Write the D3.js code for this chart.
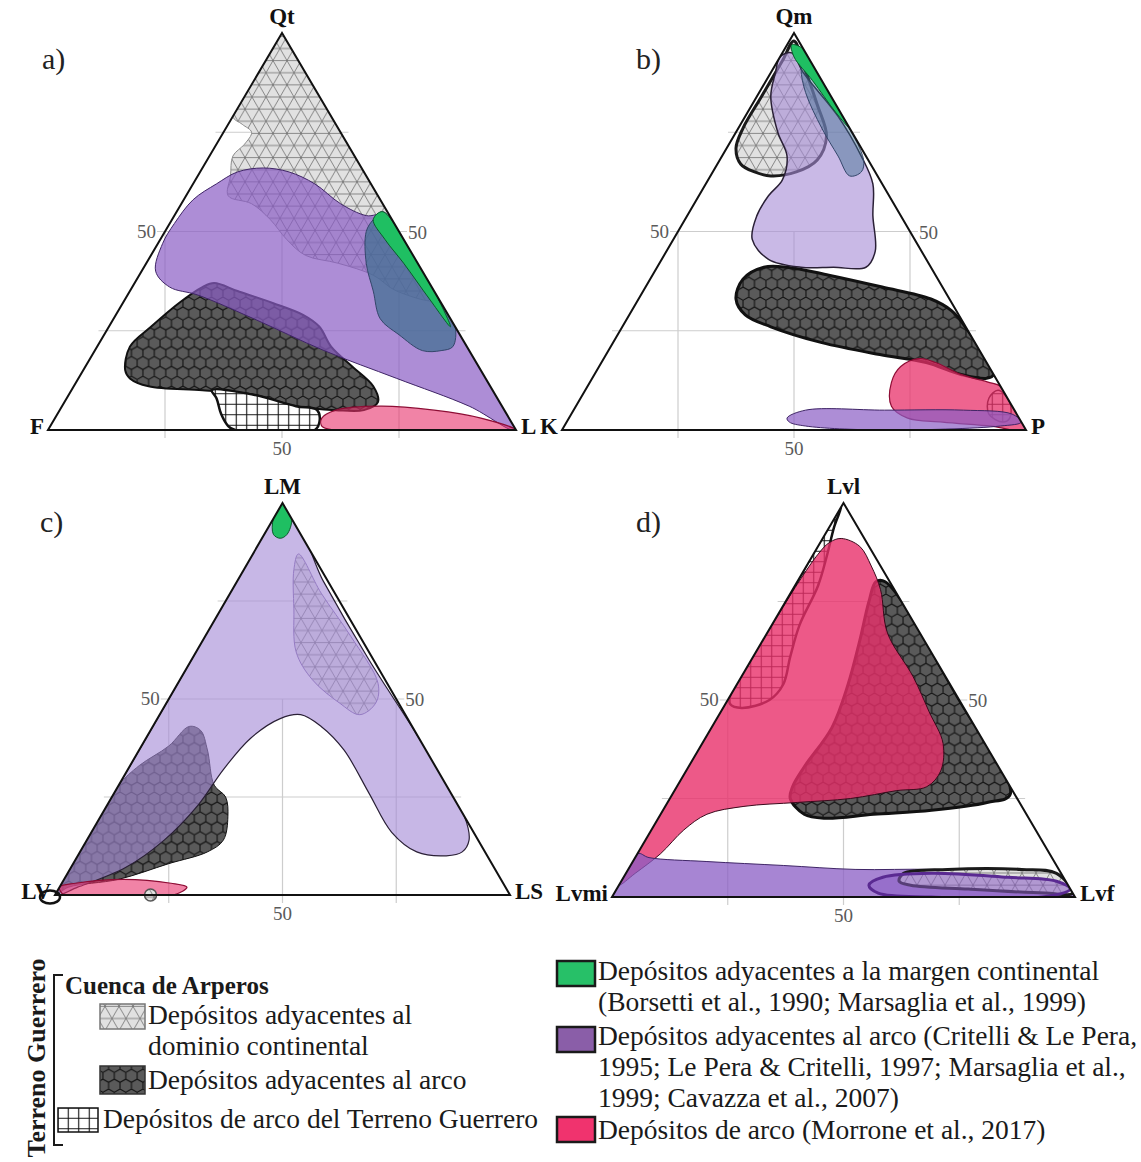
<!DOCTYPE html>
<html>
<head>
<meta charset="utf-8">
<script src="https://cdn.jsdelivr.net/npm/d3@7"></script>
<style>
  body { margin: 0; background: #fff; }
  svg { display: block; }
  text { font-family: "Liberation Serif", "Times New Roman", serif; }
</style>
</head>
<body>
<svg id="fig" width="1141" height="1162"></svg>
<script>
// ---------- compositions, [top, left, right] in percent ----------
// a) Qt - F - L
const aContinental = [[100,0,0],[66,0,34],[33,0,67],[35,8,57],[39,11,50],[42,17,41],[44,23,33],[48,25,27],[53,26,21],[57,28,15],[59,32,9],[64,29,7],[69,26,5],[72,22,6],[75,19,6],[77,20,3],[79,21,0],[90,10,0]];
const aArcAdjacent = [[15,76,9],[21,72,7],[26,65,9],[32,56,12],[36,49,15],[37,46,17],[35,42,23],[32,36,32],[29,31,40],[26,29,45],[21,29,50],[16,27,57],[11,25,64],[7,26,67],[5,30,65],[5,36,59],[6,44,50],[9,52,39],[10,62,28],[11,73,16],[13,76,11]];
const aGuerrero = [[10,60,30],[9,52,39],[6,44,50],[5,40,55],[2,41,57],[0,43,57],[0,60,40],[1,61,38],[4,61,35],[8,60,32]];
const aArcLit = [[40,57,3],[47,52,1],[52,47,1],[58,40,2],[62,33,5],[65,27,8],[66,21,13],[65,16,19],[62,12,26],[57,9,34],[54,5,41],[54,1,45],[30,0,70],[0,0,100],[6,7,87],[13,19,68],[20,31,49],[28,42,30],[34,51,15],[36,56,8]];
const aMarginWide = [[50,7,43],[53,4,43],[55,1,44],[48,0,52],[40,0,60],[31,0,69],[26,0,74],[21,3,76],[20,6,74],[20,10,70],[24,13,63],[28,15,57],[35,13,52],[42,11,47]];
const aMargin = [[53,4,43],[55,1,44],[45,0,55],[35,0,65],[26,1,73],[33,2,65],[42,3,55],[48,4,48]];
const aArc = [[3,40,57],[5,36,59],[6,26,68],[5,15,80],[3,6,91],[0,0,100],[0,10,90],[0,26,74],[0,39,61],[1,41,58]];

// b) Qm - K - P
const bContinental = [[98,1,1],[92,2,6],[82,4,14],[74,6,20],[68,11,21],[65,17,18],[64,23,13],[65,26,9],[67,28,5],[71,27,2],[76,23,1],[84,15,1],[93,6,1]];
const bArcAdjacent = [[33,46,21],[38,42,20],[41,36,23],[41,31,28],[39,23,38],[36,13,51],[33,4,63],[30,1,69],[25,0,75],[14,0,86],[13,2,85],[14,7,79],[17,13,70],[19,22,59],[22,33,45],[26,42,32],[29,46,25]];
const bArcLit = [[94,6,0],[95,3,2],[90,3,7],[79,1,20],[69,1,30],[62,2,36],[54,6,40],[45,10,45],[41,14,45],[41,21,38],[41,28,31],[43,34,23],[48,35,17],[54,31,15],[59,26,15],[63,21,16],[69,17,14],[75,16,9],[84,13,3],[90,9,1]];
const bMarginWide = [[96,0,4],[80,0,20],[68,1,31],[65,3,32],[64,6,30],[69,6,25],[76,6,18],[85,5,10],[91,3,6]];
const bMargin = [[97,2,1],[96,0,4],[86,0,14],[76,0,24],[80,1,19],[88,2,10],[94,3,3]];
const bGuerrero = [[10,1,89],[7,0,93],[3,2,95],[2,4,94],[4,6,90],[8,4,88]];
const bArc = [[12,23,65],[16,19,65],[18,14,68],[17,11,72],[14,7,79],[12,2,86],[11,0,89],[0,0,100],[1,7,92],[2,17,81],[3,24,73],[6,26,68]];
const bArcLitBase = [[3,50,47],[5,45,50],[5,28,67],[5,11,84],[4,1,95],[2,0,98],[1,5,94],[0,31,69],[1,47,52],[2,50,48]];

// c) LM - LV - LS
const cContinental = [[87,3,10],[77,3,20],[66,2,32],[54,2,44],[49,5,46],[46,10,44],[49,13,38],[55,16,29],[62,16,22],[73,11,16],[83,6,11]];
const cArcAdjacent = [[33,65,2],[38,56,6],[43,49,8],[42,47,11],[37,48,15],[28,51,21],[25,50,25],[20,52,28],[14,56,30],[11,61,28],[8,71,21],[4,84,12],[2,96,2],[0,100,0],[15,85,0],[28,72,0]];
const cArcLit = [[100,0,0],[80,1,19],[60,1,39],[40,0,60],[20,0,80],[14,2,84],[11,5,84],[10,9,81],[11,15,74],[16,18,66],[26,18,56],[37,18,45],[43,20,37],[46,23,31],[45,28,27],[40,37,23],[32,47,21],[23,57,20],[14,69,17],[7,81,12],[2,94,4],[0,100,0],[30,70,0],[60,40,0]];
const cMargin = [[100,0,0],[96,0,4],[92,3,5],[91,5,4],[92,6,2],[96,4,0]];
const cArc = [[2,98,0],[3,94,3],[4,83,13],[3,73,24],[2,70,28],[0,74,26],[0,87,13],[0,98,2]];
const cGuerreroPoint = [0,100,0];
const cContinentalPoint = [0,79,21];

// d) Lvl - Lvmi - Lvf
const dGuerrero = [[99,1,0],[94,5,1],[87,10,3],[79,16,5],[69,25,6],[61,31,8],[54,36,10],[50,41,9],[48,48,4],[49,50,1],[51,49,0],[75,25,0]];
const dArcAdjacent = [[80,1,19],[50,0,50],[26,1,73],[24,7,69],[22,20,58],[21,33,46],[20,44,36],[21,48,31],[25,49,26],[28,47,25],[33,42,25],[43,31,26],[54,22,24],[65,14,21],[75,7,18],[80,3,17]];
const dArc = [[91,5,4],[89,2,9],[84,2,14],[78,3,19],[67,7,26],[56,7,37],[47,8,45],[39,9,52],[32,13,55],[28,18,54],[27,25,48],[25,36,39],[24,48,28],[23,60,17],[21,69,10],[17,76,7],[11,84,5],[6,92,2],[3,97,0],[20,80,0],[40,60,0],[70,30,0],[87,12,1],[90,8,2]];
const dArcLit = [[0,100,0],[11,89,0],[10,87,3],[9,75,16],[8,59,33],[7,44,49],[7,27,66],[6,12,82],[4,2,94],[0,0,100],[0,50,50]];
const dContinental = [[6,34,60],[7,24,69],[7,8,85],[6,1,93],[1,0,99],[1,6,93],[2,22,76],[3,34,63],[4,36,60]];
const dArcLitRim = [[3,43,54],[5,39,56],[6,28,66],[5,12,83],[4,2,94],[2,0,98],[0,7,93],[0,31,69],[1,42,57]];

// ---------- axis text ----------
const vertexNames = [["Qt","F","L"],["Qm","K","P"],["LM","LV","LS"],["Lvl","Lvmi","Lvf"]];
const panelTags = ["a)","b)","c)","d)"];
const gridLevels = [25, 50, 75];
const tickValue = 50;

// ---------- legend text ----------
const legendGroupTitle = "Terreno Guerrero";
const legendBasinTitle = "Cuenca de Arperos";
const legendLeft = [
  ["Depósitos adyacentes al", "dominio continental"],
  ["Depósitos adyacentes al arco"],
  ["Depósitos de arco del Terreno Guerrero"]
];
const legendRight = [
  ["Depósitos adyacentes a la margen continental", "(Borsetti et al., 1990; Marsaglia et al., 1999)"],
  ["Depósitos adyacentes al arco (Critelli & Le Pera,", "1995; Le Pera & Critelli, 1997; Marsaglia et al.,", "1999; Cavazza et al., 2007)"],
  ["Depósitos de arco (Morrone et al., 2017)"]
];

// ---------- drawing ----------
const svg = d3.select("#fig");
const defs = svg.append("defs");

// triangular lattice on light grey
const triS = 14, triH = 24.25;
const pTri = defs.append("pattern").attr("id", "pTri").attr("patternUnits", "userSpaceOnUse")
  .attr("width", triS).attr("height", triH);
pTri.append("rect").attr("width", triS).attr("height", triH).attr("fill", "#e1e1e1");
pTri.append("path")
  .attr("d", `M0,0H${triS}M0,${triH/2}H${triS}M0,${triH}H${triS}M0,0L${triS},${triH}M${triS},0L0,${triH}`)
  .attr("stroke", "#707070").attr("stroke-width", 0.8).attr("fill", "none");

// honeycomb on dark grey
const hr = 6.6, hw = Math.sqrt(3) * hr, hh = 3 * hr;
const pHex = defs.append("pattern").attr("id", "pHex").attr("patternUnits", "userSpaceOnUse")
  .attr("width", hw).attr("height", hh);
pHex.append("rect").attr("width", hw).attr("height", hh).attr("fill", "#5a5a5a");
pHex.append("path")
  .attr("d", `M${hw/2},0L${hw},${hr/2}L${hw},${1.5*hr}L${hw/2},${2*hr}L0,${1.5*hr}L0,${hr/2}ZM${hw/2},${2*hr}L${hw/2},${3*hr}`)
  .attr("stroke", "#111").attr("stroke-width", 1.1).attr("fill", "none");

// square grid on white
const gs = 10.5;
const pGrid = defs.append("pattern").attr("id", "pGrid").attr("patternUnits", "userSpaceOnUse")
  .attr("width", gs).attr("height", gs);
pGrid.append("rect").attr("width", gs).attr("height", gs).attr("fill", "#fff");
pGrid.append("path").attr("d", `M0,${gs/2}H${gs}M${gs/2},0V${gs}`)
  .attr("stroke", "#111").attr("stroke-width", 1.1).attr("fill", "none");

const kinds = {
  continental: { fill: "url(#pTri)", stroke: "#1a1a1a", sw: 2.5, op: 1 },
  hex:         { fill: "url(#pHex)", stroke: "#111",    sw: 2.5, op: 1 },
  grid:        { fill: "url(#pGrid)", stroke: "#111",   sw: 2.2, op: 1 },
  purple:      { fill: "#8a5cc4", stroke: "#3f2566",    sw: 1,   op: 0.7 },
  lavender:    { fill: "#a58bd6", stroke: "#2a2036",    sw: 1.2, op: 0.6 },
  blue:        { fill: "#3c6e8e", stroke: "#34466a",    sw: 1,   op: 0.7 },
  green:       { fill: "#1fbf62", stroke: "#0b5a2c",    sw: 1,   op: 1 },
  pink:        { fill: "#e8306a", stroke: "#8e0d35",    sw: 1.2, op: 0.75 }
};

const panels = [
  { A: [283, 33],  B: [48, 430],  C: [516, 430],  tag: [42, 69],
    fields: [
      { pts: aContinental, kind: "continental", stroke: "#8a8a8a", sw: 1 },
      { pts: aArcAdjacent, kind: "hex", sw: 2 },
      { pts: aGuerrero, kind: "grid", sw: 2.5 },
      { pts: aArcLit, kind: "purple", op: 0.7 },
      { pts: aMarginWide, kind: "blue", op: 0.7 },
      { pts: aMargin, kind: "green" },
      { pts: aArc, kind: "pink", op: 0.6 }
    ] },
  { A: [794, 33],  B: [562, 430], C: [1026, 430], tag: [636, 69],
    fields: [
      { pts: bContinental, kind: "continental", sw: 3 },
      { pts: bArcAdjacent, kind: "hex", sw: 3 },
      { pts: bArcLit, kind: "lavender", op: 0.6, sw: 1.5 },
      { pts: bMarginWide, kind: "blue", op: 0.45 },
      { pts: bMargin, kind: "green" },
      { pts: bGuerrero, kind: "grid", sw: 1.5 },
      { pts: bArc, kind: "pink", op: 0.75 },
      { pts: bArcLitBase, kind: "purple", op: 0.7 }
    ] },
  { A: [282, 503], B: [55, 895],  C: [510, 895],  tag: [40, 532],
    fields: [
      { pts: cContinental, kind: "continental", stroke: "#7b62a3", sw: 1 },
      { pts: cArcAdjacent, kind: "hex", sw: 1 },
      { pts: cArcLit, kind: "lavender", op: 0.62 },
      { pts: cMargin, kind: "green" },
      { pts: cArc, kind: "pink", op: 0.6 }
    ] },
  { A: [843, 503], B: [612, 897], C: [1075, 897], tag: [636, 532],
    fields: [
      { pts: dGuerrero, kind: "grid", sw: 2.5 },
      { pts: dArcAdjacent, kind: "hex", sw: 3 },
      { pts: dArc, kind: "pink", op: 0.8, stroke: "#3a0a1c", sw: 1 },
      { pts: dArcLit, kind: "purple", op: 0.75 },
      { pts: dContinental, kind: "continental", sw: 3 },
      { pts: dArcLitRim, kind: "purple", op: 0.55, stroke: "#5a2a92", sw: 3 }
    ] }
];

const closedCurve = d3.line().curve(d3.curveCatmullRomClosed.alpha(0.5));
const tick = 8;

panels.forEach((p, i) => {
  const g = svg.append("g");
  const xs = d3.scaleLinear().domain([0, 100]).range([p.B[0], p.C[0]]);
  const ys = d3.scaleLinear().domain([0, 100]).range([p.B[1], p.A[1]]);
  const proj = c => [xs(c[2] + c[0] / 2), ys(c[0])];
  const corners = [[100, 0, 0], [0, 100, 0], [0, 0, 100]].map(proj);

  const clipId = "clip" + i;
  defs.append("clipPath").attr("id", clipId)
    .append("path").attr("d", "M" + corners.join("L") + "Z");

  // reference grid: horizontal levels of the apex component, verticals to the 50 level
  const grid = g.append("g").attr("stroke", "#cdcdcd").attr("stroke-width", 1.2);
  gridLevels.forEach(t => {
    grid.append("line")
      .attr("x1", xs(t / 2) - tick).attr("x2", xs(100 - t / 2) + tick)
      .attr("y1", ys(t)).attr("y2", ys(t));
    grid.append("line")
      .attr("x1", xs(t)).attr("x2", xs(t))
      .attr("y1", ys(0) + tick).attr("y2", ys(tickValue));
  });

  // compositional fields
  const fg = g.append("g").attr("clip-path", `url(#${clipId})`);
  p.fields.forEach(f => {
    const k = kinds[f.kind];
    fg.append("path")
      .attr("d", closedCurve(f.pts.map(proj)))
      .attr("fill", k.fill)
      .attr("fill-opacity", f.op ?? k.op)
      .attr("stroke", f.stroke ?? k.stroke)
      .attr("stroke-width", f.sw ?? k.sw)
      .attr("stroke-linejoin", "round");
  });

  // c): end-member occurrences drawn as small symbols
  if (i === 2) {
    const [gx, gy] = proj(cGuerreroPoint);
    g.append("ellipse").attr("cx", gx - 5).attr("cy", gy + 2).attr("rx", 10).attr("ry", 6.5)
      .attr("fill", "none").attr("stroke", "#111").attr("stroke-width", 2.5);
    const [sx, sy] = proj(cContinentalPoint);
    g.append("circle").attr("cx", sx).attr("cy", sy).attr("r", 6)
      .attr("fill", "url(#pTri)").attr("stroke", "#555").attr("stroke-width", 1.5);
  }

  // triangle frame
  g.append("path").attr("d", "M" + corners.join("L") + "Z")
    .attr("fill", "none").attr("stroke", "#111").attr("stroke-width", 2).attr("stroke-linejoin", "miter");

  // 50 labels
  const lab = g.append("g").attr("fill", "#5a5a5a").attr("font-size", 19);
  lab.append("text").attr("x", xs(tickValue / 2) - tick - 1).attr("y", ys(tickValue) + 6)
    .attr("text-anchor", "end").text(tickValue);
  lab.append("text").attr("x", xs(100 - tickValue / 2) + tick + 1).attr("y", ys(tickValue) + 7)
    .attr("text-anchor", "start").text(tickValue);
  lab.append("text").attr("x", xs(tickValue)).attr("y", ys(0) + 25)
    .attr("text-anchor", "middle").text(tickValue);

  // vertex names
  const names = vertexNames[i];
  const vn = g.append("g").attr("font-weight", "bold").attr("font-size", 23).attr("fill", "#111");
  vn.append("text").attr("x", corners[0][0]).attr("y", corners[0][1] - 9)
    .attr("text-anchor", "middle").text(names[0]);
  vn.append("text").attr("x", corners[1][0] - 4).attr("y", corners[1][1] + 4)
    .attr("text-anchor", "end").text(names[1]);
  vn.append("text").attr("x", corners[2][0] + 5).attr("y", corners[2][1] + 4)
    .attr("text-anchor", "start").text(names[2]);

  // panel tag
  g.append("text").attr("x", p.tag[0]).attr("y", p.tag[1])
    .attr("font-size", 30).attr("fill", "#222").text(panelTags[i]);
});

// ---------- legend ----------
const lg = svg.append("g").attr("fill", "#1a1a1a").attr("font-size", 27.5);

lg.append("text").attr("transform", "translate(45,1058) rotate(-90)")
  .attr("text-anchor", "middle").attr("font-weight", "bold").attr("font-size", 26)
  .text(legendGroupTitle);
lg.append("path").attr("d", "M63,975H54V1145H63").attr("fill", "none")
  .attr("stroke", "#1a1a1a").attr("stroke-width", 2);
lg.append("text").attr("x", 65).attr("y", 994).attr("font-weight", "bold").attr("font-size", 25)
  .text(legendBasinTitle);

const leftSwatches = [
  { x: 100, y: 1004, w: 45, h: 25, fill: "url(#pTri)", stroke: "#777", tx: 148, ty: [1024, 1055] },
  { x: 100, y: 1066, w: 45, h: 28, fill: "url(#pHex)", stroke: "#333", tx: 148, ty: [1089] },
  { x: 58,  y: 1108, w: 40, h: 24, fill: "url(#pGrid)", stroke: "#111", tx: 103, ty: [1128] }
];
legendLeft.forEach((lines, j) => {
  const s = leftSwatches[j];
  lg.append("rect").attr("x", s.x).attr("y", s.y).attr("width", s.w).attr("height", s.h)
    .attr("fill", s.fill).attr("stroke", s.stroke).attr("stroke-width", 1.5);
  lines.forEach((t, k) => lg.append("text").attr("x", s.tx).attr("y", s.ty[k]).text(t));
});

const rightSwatches = [
  { y: 961,  fill: "#27c068", ty: [980, 1011] },
  { y: 1027, fill: "#8a5ea8", ty: [1045, 1076, 1107] },
  { y: 1117, fill: "#f0336e", ty: [1139] }
];
legendRight.forEach((lines, j) => {
  const s = rightSwatches[j];
  lg.append("rect").attr("x", 557).attr("y", s.y).attr("width", 38).attr("height", 25)
    .attr("fill", s.fill).attr("stroke", "#1a1a1a").attr("stroke-width", 2.5);
  lines.forEach((t, k) => lg.append("text").attr("x", 598).attr("y", s.ty[k]).text(t));
});
</script>
</body>
</html>
